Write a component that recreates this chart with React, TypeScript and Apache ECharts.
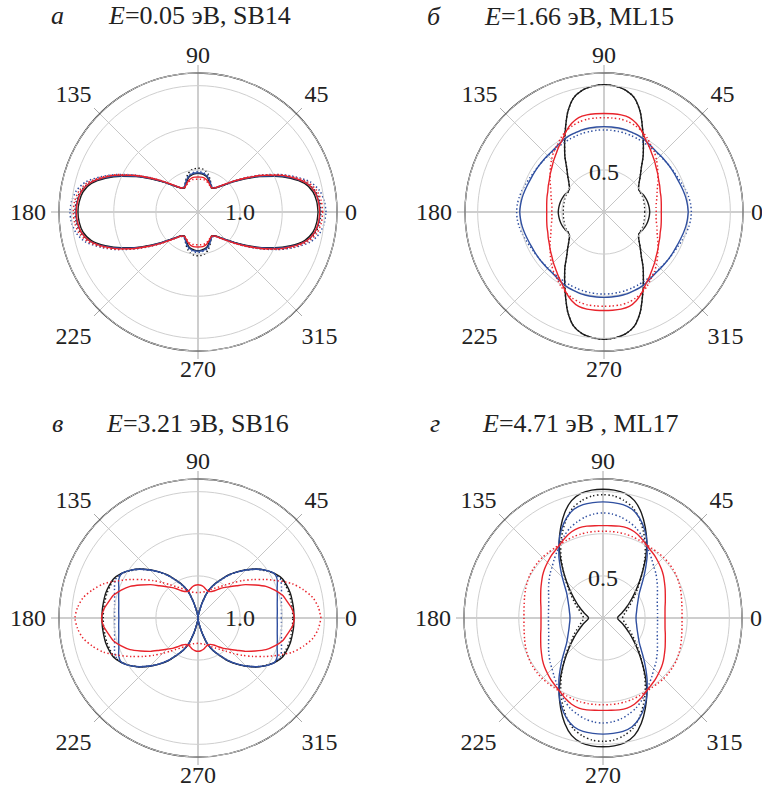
import React, { useEffect, useRef } from 'react';
import * as echarts from 'echarts';

// Polar angle (degrees) at which every curve is sampled
const ANGLES = [
  0, 5, 10, 15, 20, 25, 30, 35, 40, 45, 50, 55, 60, 65, 70, 75, 80, 85, 90,
  95, 100, 105, 110, 115, 120, 125, 130, 135, 140, 145, 150, 155, 160, 165, 170, 175, 180,
  185, 190, 195, 200, 205, 210, 215, 220, 225, 230, 235, 240, 245, 250, 255, 260, 265, 270,
  275, 280, 285, 290, 295, 300, 305, 310, 315, 320, 325, 330, 335, 340, 345, 350, 355, 360,
];

const ANGLE_TICKS = [0, 45, 90, 135, 180, 225, 270, 315];
const ANGLE_TICK_LABELS = ['0', '45', '90', '135', '180', '225', '270', '315'];

const PANEL_LETTERS = ['а', 'б', 'в', 'г'];
const PANEL_TITLES = ['{i|E}=0.05 эВ, SB14', '{i|E}=1.66 эВ, ML15', '{i|E}=3.21 эВ, SB16', '{i|E}=4.71 эВ , ML17'];
const RADIUS_MAX = [3.3, 1.65, 3.3, 1.65];
const RADIUS_STEP = [1, 0.5, 1, 0.5];
const RADIUS_LABEL_VALUE = [1, 0.5, 1, 0.5];
const RADIUS_LABEL_TEXT = ['1.0', '0.5', '1.0', '0.5'];

// ---- Panel а : E=0.05 эВ, SB14 ----
const A_BLACK = [
  2.85, 2.83, 2.77, 2.62, 2.34, 2.01, 1.68, 1.37, 1.12, 0.92, 0.78, 0.69, 0.65, 0.70, 0.77, 0.85, 0.89, 0.91, 0.92,
  0.91, 0.89, 0.85, 0.77, 0.70, 0.65, 0.69, 0.78, 0.92, 1.12, 1.37, 1.68, 2.01, 2.34, 2.62, 2.77, 2.83, 2.85,
  2.83, 2.77, 2.62, 2.34, 2.01, 1.68, 1.37, 1.12, 0.92, 0.78, 0.69, 0.65, 0.70, 0.77, 0.85, 0.89, 0.91, 0.92,
  0.91, 0.89, 0.85, 0.77, 0.70, 0.65, 0.69, 0.78, 0.92, 1.12, 1.37, 1.68, 2.01, 2.34, 2.62, 2.77, 2.83, 2.85,
];
const A_BLACK_DOT = [
  2.92, 2.90, 2.83, 2.67, 2.38, 2.05, 1.71, 1.40, 1.14, 0.93, 0.79, 0.70, 0.67, 0.73, 0.83, 0.93, 1.00, 1.03, 1.04,
  1.03, 1.00, 0.93, 0.83, 0.73, 0.67, 0.70, 0.79, 0.93, 1.14, 1.40, 1.71, 2.05, 2.38, 2.67, 2.83, 2.90, 2.92,
  2.90, 2.83, 2.67, 2.38, 2.05, 1.71, 1.40, 1.14, 0.93, 0.79, 0.70, 0.67, 0.73, 0.83, 0.93, 1.00, 1.03, 1.04,
  1.03, 1.00, 0.93, 0.83, 0.73, 0.67, 0.70, 0.79, 0.93, 1.14, 1.40, 1.71, 2.05, 2.38, 2.67, 2.83, 2.90, 2.92,
];
const A_BLUE = [
  2.90, 2.88, 2.81, 2.66, 2.37, 2.04, 1.70, 1.39, 1.13, 0.93, 0.79, 0.70, 0.67, 0.72, 0.80, 0.87, 0.91, 0.93, 0.93,
  0.93, 0.91, 0.87, 0.80, 0.72, 0.67, 0.70, 0.79, 0.93, 1.13, 1.39, 1.70, 2.04, 2.37, 2.66, 2.81, 2.88, 2.90,
  2.88, 2.81, 2.66, 2.37, 2.04, 1.70, 1.39, 1.13, 0.93, 0.79, 0.70, 0.67, 0.72, 0.80, 0.87, 0.91, 0.93, 0.93,
  0.93, 0.91, 0.87, 0.80, 0.72, 0.67, 0.70, 0.79, 0.93, 1.13, 1.39, 1.70, 2.04, 2.37, 2.66, 2.81, 2.88, 2.90,
];
const A_BLUE_DOT = [
  3.04, 3.01, 2.93, 2.76, 2.45, 2.11, 1.76, 1.44, 1.17, 0.95, 0.80, 0.71, 0.68, 0.73, 0.81, 0.89, 0.93, 0.95, 0.96,
  0.95, 0.93, 0.89, 0.81, 0.73, 0.68, 0.71, 0.80, 0.95, 1.17, 1.44, 1.76, 2.11, 2.45, 2.76, 2.93, 3.01, 3.04,
  3.01, 2.93, 2.76, 2.45, 2.11, 1.76, 1.44, 1.17, 0.95, 0.80, 0.71, 0.68, 0.73, 0.81, 0.89, 0.93, 0.95, 0.96,
  0.95, 0.93, 0.89, 0.81, 0.73, 0.68, 0.71, 0.80, 0.95, 1.17, 1.44, 1.76, 2.11, 2.45, 2.76, 2.93, 3.01, 3.04,
];
const A_RED = [
  2.89, 2.87, 2.81, 2.66, 2.39, 2.07, 1.73, 1.42, 1.16, 0.95, 0.80, 0.70, 0.66, 0.69, 0.74, 0.79, 0.82, 0.83, 0.83,
  0.83, 0.82, 0.79, 0.74, 0.69, 0.66, 0.70, 0.80, 0.95, 1.16, 1.42, 1.73, 2.07, 2.39, 2.66, 2.81, 2.87, 2.89,
  2.87, 2.81, 2.66, 2.39, 2.07, 1.73, 1.42, 1.16, 0.95, 0.80, 0.70, 0.66, 0.69, 0.74, 0.79, 0.82, 0.83, 0.83,
  0.83, 0.82, 0.79, 0.74, 0.69, 0.66, 0.70, 0.80, 0.95, 1.16, 1.42, 1.73, 2.07, 2.39, 2.66, 2.81, 2.87, 2.89,
];
const A_RED_DOT = [
  2.96, 2.94, 2.87, 2.71, 2.43, 2.10, 1.75, 1.43, 1.17, 0.95, 0.80, 0.70, 0.66, 0.68, 0.72, 0.76, 0.78, 0.78, 0.78,
  0.78, 0.78, 0.76, 0.72, 0.68, 0.66, 0.70, 0.80, 0.95, 1.17, 1.43, 1.75, 2.10, 2.43, 2.71, 2.87, 2.94, 2.96,
  2.94, 2.87, 2.71, 2.43, 2.10, 1.75, 1.43, 1.17, 0.95, 0.80, 0.70, 0.66, 0.68, 0.72, 0.76, 0.78, 0.78, 0.78,
  0.78, 0.78, 0.76, 0.72, 0.68, 0.66, 0.70, 0.80, 0.95, 1.17, 1.43, 1.75, 2.10, 2.43, 2.71, 2.87, 2.94, 2.96,
];

// ---- Panel б : E=1.66 эВ, ML15 ----
const B_BLACK = [
  0.543, 0.54, 0.535, 0.528, 0.518, 0.505, 0.49, 0.50, 0.545, 0.61, 0.69, 0.81, 0.935, 1.085, 1.26, 1.40, 1.47, 1.50, 1.51,
  1.50, 1.47, 1.40, 1.26, 1.085, 0.935, 0.81, 0.69, 0.61, 0.545, 0.50, 0.49, 0.505, 0.518, 0.528, 0.535, 0.54, 0.543,
  0.54, 0.535, 0.528, 0.518, 0.505, 0.49, 0.50, 0.545, 0.61, 0.69, 0.81, 0.935, 1.085, 1.26, 1.40, 1.47, 1.50, 1.51,
  1.50, 1.47, 1.40, 1.26, 1.085, 0.935, 0.81, 0.69, 0.61, 0.545, 0.50, 0.49, 0.505, 0.518, 0.528, 0.535, 0.54, 0.543,
];
const B_BLACK_DOT = [
  0.485, 0.485, 0.487, 0.49, 0.493, 0.493, 0.487, 0.50, 0.545, 0.61, 0.69, 0.81, 0.935, 1.085, 1.26, 1.40, 1.47, 1.50, 1.51,
  1.50, 1.47, 1.40, 1.26, 1.085, 0.935, 0.81, 0.69, 0.61, 0.545, 0.50, 0.487, 0.493, 0.493, 0.49, 0.487, 0.485, 0.485,
  0.485, 0.487, 0.49, 0.493, 0.493, 0.487, 0.50, 0.545, 0.61, 0.69, 0.81, 0.935, 1.085, 1.26, 1.40, 1.47, 1.50, 1.51,
  1.50, 1.47, 1.40, 1.26, 1.085, 0.935, 0.81, 0.69, 0.61, 0.545, 0.50, 0.487, 0.493, 0.493, 0.49, 0.487, 0.485, 0.485,
];
const B_BLUE = [
  1.0, 0.994, 0.986, 0.974, 0.962, 0.954, 0.95, 0.948, 0.947, 0.947, 0.95, 0.962, 0.98, 0.994, 1.0, 1.01, 1.012, 1.013, 1.013,
  1.013, 1.012, 1.01, 1.0, 0.994, 0.98, 0.962, 0.95, 0.947, 0.947, 0.948, 0.95, 0.954, 0.962, 0.974, 0.986, 0.994, 1.0,
  0.994, 0.986, 0.974, 0.962, 0.954, 0.95, 0.948, 0.947, 0.947, 0.95, 0.962, 0.98, 0.994, 1.0, 1.01, 1.012, 1.013, 1.013,
  1.013, 1.012, 1.01, 1.0, 0.994, 0.98, 0.962, 0.95, 0.947, 0.947, 0.948, 0.95, 0.954, 0.962, 0.974, 0.986, 0.994, 1.0,
];
const B_BLUE_DOT = [
  1.037, 1.033, 1.021, 1.004, 0.986, 0.968, 0.956, 0.95, 0.944, 0.942, 0.942, 0.944, 0.95, 0.956, 0.962, 0.968, 0.971, 0.974, 0.974,
  0.974, 0.971, 0.968, 0.962, 0.956, 0.95, 0.944, 0.942, 0.942, 0.944, 0.95, 0.956, 0.968, 0.986, 1.004, 1.021, 1.033, 1.037,
  1.033, 1.021, 1.004, 0.986, 0.968, 0.956, 0.95, 0.944, 0.942, 0.942, 0.944, 0.95, 0.956, 0.962, 0.968, 0.971, 0.974, 0.974,
  0.974, 0.971, 0.968, 0.962, 0.956, 0.95, 0.944, 0.942, 0.942, 0.944, 0.95, 0.956, 0.968, 0.986, 1.004, 1.021, 1.033, 1.037,
];
const B_RED = [
  0.68, 0.683, 0.69, 0.70, 0.71, 0.73, 0.75, 0.78, 0.81, 0.85, 0.89, 0.94, 0.99, 1.06, 1.12, 1.16, 1.17, 1.17, 1.17,
  1.17, 1.17, 1.16, 1.12, 1.06, 0.99, 0.94, 0.89, 0.85, 0.81, 0.78, 0.75, 0.73, 0.71, 0.70, 0.69, 0.683, 0.68,
  0.683, 0.69, 0.70, 0.71, 0.73, 0.75, 0.78, 0.81, 0.85, 0.89, 0.94, 0.99, 1.06, 1.12, 1.16, 1.17, 1.17, 1.17,
  1.17, 1.17, 1.16, 1.12, 1.06, 0.99, 0.94, 0.89, 0.85, 0.81, 0.78, 0.75, 0.73, 0.71, 0.70, 0.69, 0.683, 0.68,
];
const B_RED_DOT = [
  0.62, 0.62, 0.63, 0.65, 0.67, 0.70, 0.74, 0.78, 0.83, 0.88, 0.93, 0.97, 1.02, 1.06, 1.09, 1.11, 1.12, 1.12, 1.12,
  1.12, 1.12, 1.11, 1.09, 1.06, 1.02, 0.97, 0.93, 0.88, 0.83, 0.78, 0.74, 0.70, 0.67, 0.65, 0.63, 0.62, 0.62,
  0.62, 0.63, 0.65, 0.67, 0.70, 0.74, 0.78, 0.83, 0.88, 0.93, 0.97, 1.02, 1.06, 1.09, 1.11, 1.12, 1.12, 1.12,
  1.12, 1.12, 1.11, 1.09, 1.06, 1.02, 0.97, 0.93, 0.88, 0.83, 0.78, 0.74, 0.70, 0.67, 0.65, 0.63, 0.62, 0.62,
];

// ---- Panel в : E=3.21 эВ, SB16 ----
const C_BLACK = [
  2.28, 2.28, 2.275, 2.27, 2.245, 2.21, 2.11, 1.97, 1.81, 1.62, 1.43, 1.24, 1.03, 0.86, 0.66, 0.36, 0.14, 0.05, 0,
  0.05, 0.14, 0.36, 0.66, 0.86, 1.03, 1.24, 1.43, 1.62, 1.81, 1.97, 2.11, 2.21, 2.245, 2.27, 2.275, 2.28, 2.28,
  2.28, 2.275, 2.27, 2.245, 2.21, 2.11, 1.97, 1.81, 1.62, 1.43, 1.24, 1.03, 0.86, 0.66, 0.36, 0.14, 0.05, 0,
  0.05, 0.14, 0.36, 0.66, 0.86, 1.03, 1.24, 1.43, 1.62, 1.81, 1.97, 2.11, 2.21, 2.245, 2.27, 2.275, 2.28, 2.28,
];
const C_BLACK_DOT = [
  2.25, 2.25, 2.245, 2.24, 2.22, 2.19, 2.10, 1.96, 1.80, 1.61, 1.42, 1.23, 1.02, 0.85, 0.65, 0.35, 0.14, 0.05, 0,
  0.05, 0.14, 0.35, 0.65, 0.85, 1.02, 1.23, 1.42, 1.61, 1.80, 1.96, 2.10, 2.19, 2.22, 2.24, 2.245, 2.25, 2.25,
  2.25, 2.245, 2.24, 2.22, 2.19, 2.10, 1.96, 1.80, 1.61, 1.42, 1.23, 1.02, 0.85, 0.65, 0.35, 0.14, 0.05, 0,
  0.05, 0.14, 0.35, 0.65, 0.85, 1.02, 1.23, 1.42, 1.61, 1.80, 1.96, 2.10, 2.19, 2.22, 2.24, 2.245, 2.25, 2.25,
];
const C_BLUE = [
  1.88, 1.89, 1.91, 1.95, 2.0, 2.08, 2.10, 1.97, 1.80, 1.61, 1.42, 1.23, 1.02, 0.85, 0.65, 0.34, 0.13, 0.05, 0,
  0.05, 0.13, 0.34, 0.65, 0.85, 1.02, 1.23, 1.42, 1.61, 1.80, 1.97, 2.10, 2.08, 2.0, 1.95, 1.91, 1.89, 1.88,
  1.89, 1.91, 1.95, 2.0, 2.08, 2.10, 1.97, 1.80, 1.61, 1.42, 1.23, 1.02, 0.85, 0.65, 0.34, 0.13, 0.05, 0,
  0.05, 0.13, 0.34, 0.65, 0.85, 1.02, 1.23, 1.42, 1.61, 1.80, 1.97, 2.10, 2.08, 2.0, 1.95, 1.91, 1.89, 1.88,
];
const C_BLUE_DOT = [
  1.98, 1.99, 2.01, 2.05, 2.11, 2.16, 2.10, 1.97, 1.80, 1.61, 1.42, 1.23, 1.02, 0.85, 0.65, 0.35, 0.14, 0.05, 0,
  0.05, 0.14, 0.35, 0.65, 0.85, 1.02, 1.23, 1.42, 1.61, 1.80, 1.97, 2.10, 2.16, 2.11, 2.05, 2.01, 1.99, 1.98,
  1.99, 2.01, 2.05, 2.11, 2.16, 2.10, 1.97, 1.80, 1.61, 1.42, 1.23, 1.02, 0.85, 0.65, 0.35, 0.14, 0.05, 0,
  0.05, 0.14, 0.35, 0.65, 0.85, 1.02, 1.23, 1.42, 1.61, 1.80, 1.97, 2.10, 2.16, 2.11, 2.05, 2.01, 1.99, 1.98,
];
const C_RED = [
  2.29, 2.25, 2.16, 2.08, 1.94, 1.78, 1.57, 1.38, 1.19, 1.05, 0.94, 0.83, 0.74, 0.69, 0.68, 0.71, 0.755, 0.78, 0.79,
  0.78, 0.755, 0.71, 0.68, 0.69, 0.74, 0.83, 0.94, 1.05, 1.19, 1.38, 1.57, 1.78, 1.94, 2.08, 2.16, 2.25, 2.29,
  2.25, 2.16, 2.08, 1.94, 1.78, 1.57, 1.38, 1.19, 1.05, 0.94, 0.83, 0.74, 0.69, 0.68, 0.71, 0.755, 0.78, 0.79,
  0.78, 0.755, 0.71, 0.68, 0.69, 0.74, 0.83, 0.94, 1.05, 1.19, 1.38, 1.57, 1.78, 1.94, 2.08, 2.16, 2.25, 2.29,
];
const C_RED_DOT = [
  2.92, 2.87, 2.77, 2.59, 2.38, 2.09, 1.83, 1.59, 1.38, 1.19, 1.03, 0.91, 0.82, 0.75, 0.69, 0.65, 0.62, 0.61, 0.60,
  0.61, 0.62, 0.65, 0.69, 0.75, 0.82, 0.91, 1.03, 1.19, 1.38, 1.59, 1.83, 2.09, 2.38, 2.59, 2.77, 2.87, 2.92,
  2.87, 2.77, 2.59, 2.38, 2.09, 1.83, 1.59, 1.38, 1.19, 1.03, 0.91, 0.82, 0.75, 0.69, 0.65, 0.62, 0.61, 0.60,
  0.61, 0.62, 0.65, 0.69, 0.75, 0.82, 0.91, 1.03, 1.19, 1.38, 1.59, 1.83, 2.09, 2.38, 2.59, 2.77, 2.87, 2.92,
];

// ---- Panel г : E=4.71 эВ, ML17 ----
const D_BLACK = [
  0.172, 0.18, 0.202, 0.232, 0.267, 0.309, 0.362, 0.428, 0.511, 0.612, 0.736, 0.885, 1.039, 1.188, 1.33, 1.443, 1.502, 1.524, 1.529,
  1.524, 1.502, 1.443, 1.33, 1.188, 1.039, 0.885, 0.736, 0.612, 0.511, 0.428, 0.362, 0.309, 0.267, 0.232, 0.202, 0.18, 0.172,
  0.18, 0.202, 0.232, 0.267, 0.309, 0.362, 0.428, 0.511, 0.612, 0.736, 0.885, 1.039, 1.188, 1.33, 1.443, 1.502, 1.524, 1.529,
  1.524, 1.502, 1.443, 1.33, 1.188, 1.039, 0.885, 0.736, 0.612, 0.511, 0.428, 0.362, 0.309, 0.267, 0.232, 0.202, 0.18, 0.172,
];
const D_BLACK_DOT = [
  0.232, 0.238, 0.255, 0.279, 0.309, 0.35, 0.398, 0.457, 0.534, 0.624, 0.736, 0.867, 1.004, 1.134, 1.259, 1.36, 1.419, 1.455, 1.464,
  1.455, 1.419, 1.36, 1.259, 1.134, 1.004, 0.867, 0.736, 0.624, 0.534, 0.457, 0.398, 0.35, 0.309, 0.279, 0.255, 0.238, 0.232,
  0.238, 0.255, 0.279, 0.309, 0.35, 0.398, 0.457, 0.534, 0.624, 0.736, 0.867, 1.004, 1.134, 1.259, 1.36, 1.419, 1.455, 1.464,
  1.455, 1.419, 1.36, 1.259, 1.134, 1.004, 0.867, 0.736, 0.624, 0.534, 0.457, 0.398, 0.35, 0.309, 0.279, 0.255, 0.238, 0.232,
];
const D_BLUE = [
  0.392, 0.395, 0.404, 0.416, 0.433, 0.457, 0.487, 0.529, 0.594, 0.683, 0.79, 0.914, 1.045, 1.164, 1.265, 1.336, 1.366, 1.375, 1.378,
  1.375, 1.366, 1.336, 1.265, 1.164, 1.045, 0.914, 0.79, 0.683, 0.594, 0.529, 0.487, 0.457, 0.433, 0.416, 0.404, 0.395, 0.392,
  0.395, 0.404, 0.416, 0.433, 0.457, 0.487, 0.529, 0.594, 0.683, 0.79, 0.914, 1.045, 1.164, 1.265, 1.336, 1.366, 1.375, 1.378,
  1.375, 1.366, 1.336, 1.265, 1.164, 1.045, 0.914, 0.79, 0.683, 0.594, 0.529, 0.487, 0.457, 0.433, 0.416, 0.404, 0.395, 0.392,
];
const D_BLUE_DOT = [
  0.647, 0.65, 0.656, 0.667, 0.686, 0.713, 0.746, 0.781, 0.82, 0.855, 0.903, 0.956, 1.015, 1.081, 1.14, 1.182, 1.217, 1.239, 1.247,
  1.239, 1.217, 1.182, 1.14, 1.081, 1.015, 0.956, 0.903, 0.855, 0.82, 0.781, 0.746, 0.713, 0.686, 0.667, 0.656, 0.65, 0.647,
  0.65, 0.656, 0.667, 0.686, 0.713, 0.746, 0.781, 0.82, 0.855, 0.903, 0.956, 1.015, 1.081, 1.14, 1.182, 1.217, 1.239, 1.247,
  1.239, 1.217, 1.182, 1.14, 1.081, 1.015, 0.956, 0.903, 0.855, 0.82, 0.781, 0.746, 0.713, 0.686, 0.667, 0.656, 0.65, 0.647,
];
const D_RED = [
  0.736, 0.739, 0.748, 0.766, 0.787, 0.814, 0.843, 0.876, 0.906, 0.932, 0.96, 0.983, 1.015, 1.055, 1.09, 1.107, 1.107, 1.10, 1.096,
  1.10, 1.107, 1.107, 1.09, 1.055, 1.015, 0.983, 0.96, 0.932, 0.906, 0.876, 0.843, 0.814, 0.787, 0.766, 0.748, 0.739, 0.736,
  0.739, 0.748, 0.766, 0.787, 0.814, 0.843, 0.876, 0.906, 0.932, 0.96, 0.983, 1.015, 1.055, 1.09, 1.107, 1.107, 1.10, 1.096,
  1.10, 1.107, 1.107, 1.09, 1.055, 1.015, 0.983, 0.96, 0.932, 0.906, 0.876, 0.843, 0.814, 0.787, 0.766, 0.748, 0.739, 0.736,
];
const D_RED_DOT = [
  0.938, 0.942, 0.95, 0.964, 0.98, 0.994, 1.006, 1.013, 1.017, 1.017, 1.013, 1.01, 1.012, 1.019, 1.026, 1.031, 1.032, 1.031, 1.03,
  1.031, 1.032, 1.031, 1.026, 1.019, 1.012, 1.01, 1.013, 1.017, 1.017, 1.013, 1.006, 0.994, 0.98, 0.964, 0.95, 0.942, 0.938,
  0.942, 0.95, 0.964, 0.98, 0.994, 1.006, 1.013, 1.017, 1.017, 1.013, 1.01, 1.012, 1.019, 1.026, 1.031, 1.032, 1.031, 1.03,
  1.031, 1.032, 1.031, 1.026, 1.019, 1.012, 1.01, 1.013, 1.017, 1.017, 1.013, 1.006, 0.994, 0.98, 0.964, 0.95, 0.942, 0.938,
];

const PANEL_SERIES = [
  [A_BLACK_DOT, A_BLACK, A_BLUE_DOT, A_BLUE, A_RED_DOT, A_RED],
  [B_BLACK_DOT, B_BLACK, B_BLUE_DOT, B_BLUE, B_RED_DOT, B_RED],
  [C_BLACK_DOT, C_BLACK, C_BLUE_DOT, C_BLUE, C_RED_DOT, C_RED],
  [D_BLACK_DOT, D_BLACK, D_BLUE_DOT, D_BLUE, D_RED_DOT, D_RED],
];
const SERIES_NAMES = ['black dotted', 'black', 'blue dotted', 'blue', 'red dotted', 'red'];

// ---- layout / style (not data) ----
const CENTERS = [[198, 212], [604, 212], [198, 618], [603, 618]];
const POLAR_RADIUS = 139;
const LETTER_POS = [[51, 2], [427, 3], [52, 410], [430, 410]];
const TITLE_POS = [[109, 2], [485, 3], [107, 410], [483, 410]];
const SERIES_COLORS = ['#1c1c1c', '#1c1c1c', '#2f4fa0', '#2f4fa0', '#e8232b', '#e8232b'];
const SERIES_DOTTED = [true, false, true, false, true, false];
const FONT = 'Liberation Serif';
const TEXT_COLOR = '#222';
const ANGLE_LABEL_PADDING = [
  [0, 0, 0, 2], [0, 0, 3, 4], [0, 0, 0, 0], [0, 4, 3, 0],
  [0, 7, 0, 0], [9, 4, 0, 0], [0, 0, 0, 0], [9, 0, 0, 1],
];

export default function App() {
  const ref = useRef<HTMLDivElement>(null);

  useEffect(() => {
    if (!ref.current) return;
    const chart = echarts.init(ref.current, null, { renderer: 'svg' });

    const angleRich: Record<string, any> = {};
    ANGLE_TICK_LABELS.forEach((_, k) => {
      angleRich['t' + k] = {
        fontFamily: FONT,
        fontSize: 24,
        color: TEXT_COLOR,
        padding: ANGLE_LABEL_PADDING[k],
      };
    });

    const polar: any[] = [];
    const angleAxis: any[] = [];
    const radiusAxis: any[] = [];
    const series: any[] = [];
    const title: any[] = [];

    PANEL_SERIES.forEach((list, i) => {
      polar.push({ center: CENTERS[i], radius: POLAR_RADIUS });
      angleAxis.push({
        polarIndex: i,
        type: 'value',
        min: 0,
        max: 360,
        interval: 45,
        startAngle: 0,
        clockwise: false,
        axisLine: { show: true, lineStyle: { color: '#151515', width: 1.3 } },
        axisTick: { show: true, length: 8, lineStyle: { color: '#a8a8a8', width: 1 } },
        splitLine: { show: true, lineStyle: { color: ['#9d9d9d', '#c6c6c6'], width: 1 } },
        axisLabel: {
          show: true,
          margin: 6,
          fontFamily: FONT,
          fontSize: 24,
          color: TEXT_COLOR,
          formatter: (v: number) => {
            const k = ANGLE_TICKS.indexOf(Math.round(v));
            return k < 0 ? '' : `{t${k}|${ANGLE_TICK_LABELS[k]}}`;
          },
          rich: angleRich,
        },
      });
      const isVerticalLabel = i % 2 === 1;
      radiusAxis.push({
        polarIndex: i,
        type: 'value',
        min: 0,
        max: RADIUS_MAX[i],
        interval: RADIUS_STEP[i],
        axisLine: { show: false },
        axisTick: { show: false },
        splitLine: { show: true, lineStyle: { color: '#cfcfcf', width: 1 } },
        axisLabel: {
          show: true,
          margin: isVerticalLabel ? 40 : 0,
          align: 'center',
          verticalAlign: 'middle',
          padding: isVerticalLabel ? [0, 84, 0, 0] : 0,
          fontFamily: FONT,
          fontSize: 24,
          color: TEXT_COLOR,
          formatter: (v: number) =>
            Math.abs(v - RADIUS_LABEL_VALUE[i]) < 1e-9 ? RADIUS_LABEL_TEXT[i] : '',
        },
        z: 5,
      });

      list.forEach((values, s) => {
        const n = Math.min(values.length, ANGLES.length);
        const data: number[][] = [];
        for (let k = 0; k < n; k++) data.push([values[k], ANGLES[k]]);
        series.push({
          name: SERIES_NAMES[s] + ' ' + (i + 1),
          type: 'line',
          coordinateSystem: 'polar',
          polarIndex: i,
          data,
          showSymbol: false,
          symbol: 'none',
          smooth: 0.25,
          silent: true,
          clip: false,
          lineStyle: {
            color: SERIES_COLORS[s],
            width: SERIES_DOTTED[s] ? 1.5 : 1.4,
            type: SERIES_DOTTED[s] ? [1.4, 2.4] : 'solid',
          },
          z: 2 + s,
        });
      });

      title.push({
        text: PANEL_LETTERS[i],
        left: LETTER_POS[i][0],
        top: LETTER_POS[i][1],
        padding: 0,
        textStyle: { fontFamily: FONT, fontSize: 26, fontStyle: 'italic', fontWeight: 'normal', color: TEXT_COLOR },
      });
      title.push({
        text: PANEL_TITLES[i],
        left: TITLE_POS[i][0],
        top: TITLE_POS[i][1],
        padding: 0,
        textStyle: {
          fontFamily: FONT,
          fontSize: 26,
          fontWeight: 'normal',
          color: TEXT_COLOR,
          rich: {
            i: { fontFamily: FONT, fontSize: 26, fontStyle: 'italic', color: TEXT_COLOR },
          },
        },
      });
    });

    chart.setOption({
      animation: false,
      backgroundColor: '#ffffff',
      title,
      polar,
      angleAxis,
      radiusAxis,
      series,
    });

    return () => chart.dispose();
  }, []);

  return (
    <div
      ref={ref}
      style={{ position: 'fixed', left: 0, top: 0, width: 762, height: 790, background: '#fff' }}
    />
  );
}
